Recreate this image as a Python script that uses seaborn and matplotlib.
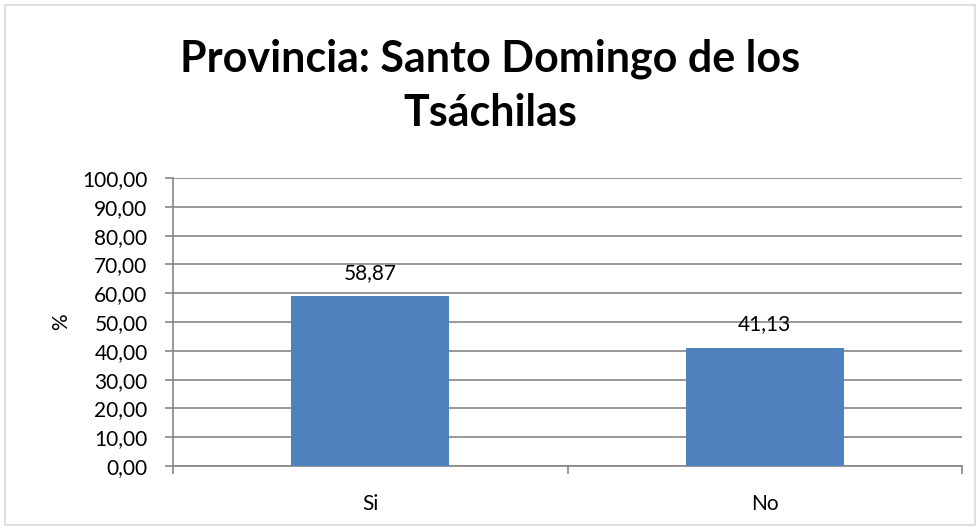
import matplotlib
matplotlib.use("Agg")
import matplotlib.pyplot as plt
import seaborn as sns
import pandas as pd
from matplotlib.ticker import FuncFormatter, FixedLocator, MultipleLocator
from matplotlib.patches import Rectangle

categories = ["Si", "No"]
values = [58.87, 41.13]
title = "Provincia: Santo Domingo de los\nTsáchilas"
ylabel = "%"

sns.set_theme(style="white")
plt.rcParams['font.family'] = ['Lato', 'DejaVu Sans']

df = pd.DataFrame({"cat": categories, "val": values})

fig = plt.figure(figsize=(9.8, 5.3), dpi=100)
ax = fig.add_axes([173/980, 1-466/530, (962-173)/980, (466-178)/530])

sns.barplot(data=df, x="cat", y="val", color="#4F81BD", width=0.4, ax=ax,
            saturation=1, edgecolor="none", zorder=3)

ax.set_xlim(-0.5, 1.5)
ax.set_ylim(0, 100)
ax.yaxis.set_major_locator(MultipleLocator(10))
ax.yaxis.set_major_formatter(FuncFormatter(lambda v, p: f"{v:.2f}".replace(".", ",")))
ax.yaxis.grid(True, color="#868686", linewidth=1.2, zorder=0)
ax.set_axisbelow(True)

for s in ["top", "right"]:
    ax.spines[s].set_visible(False)
for s in ["left", "bottom"]:
    ax.spines[s].set_color("#868686")
    ax.spines[s].set_linewidth(1.2)

ax.tick_params(axis="y", which="major", left=True, length=5.8, width=1.2, color="#868686",
               labelsize=15, pad=12.5, labelcolor="black")
ax.tick_params(axis="x", which="major", bottom=False, labelsize=15, pad=14, labelcolor="black")
ax.xaxis.set_minor_locator(FixedLocator([-0.5, 0.5, 1.5]))
ax.tick_params(axis="x", which="minor", bottom=True, length=6, width=1.2, color="#868686")

ax.set_xlabel("")
ax.set_ylabel(ylabel, fontsize=15, labelpad=8, color="black")

for i, v in enumerate(values):
    ax.text(i, v + 4.5, f"{v:.2f}".replace(".", ","), ha="center", va="bottom",
            fontsize=15, color="black")

fig.text(0.5, 1-86/530, title, ha="center", va="center", fontsize=31,
         fontweight="bold", linespacing=1.42, color="black")

fig.patches.append(Rectangle((5/980, 5/530), 970/980, 520/530, transform=fig.transFigure,
                             fill=False, edgecolor="#D9D9D9", linewidth=1.2))

fig.savefig("out.png", dpi=100)
